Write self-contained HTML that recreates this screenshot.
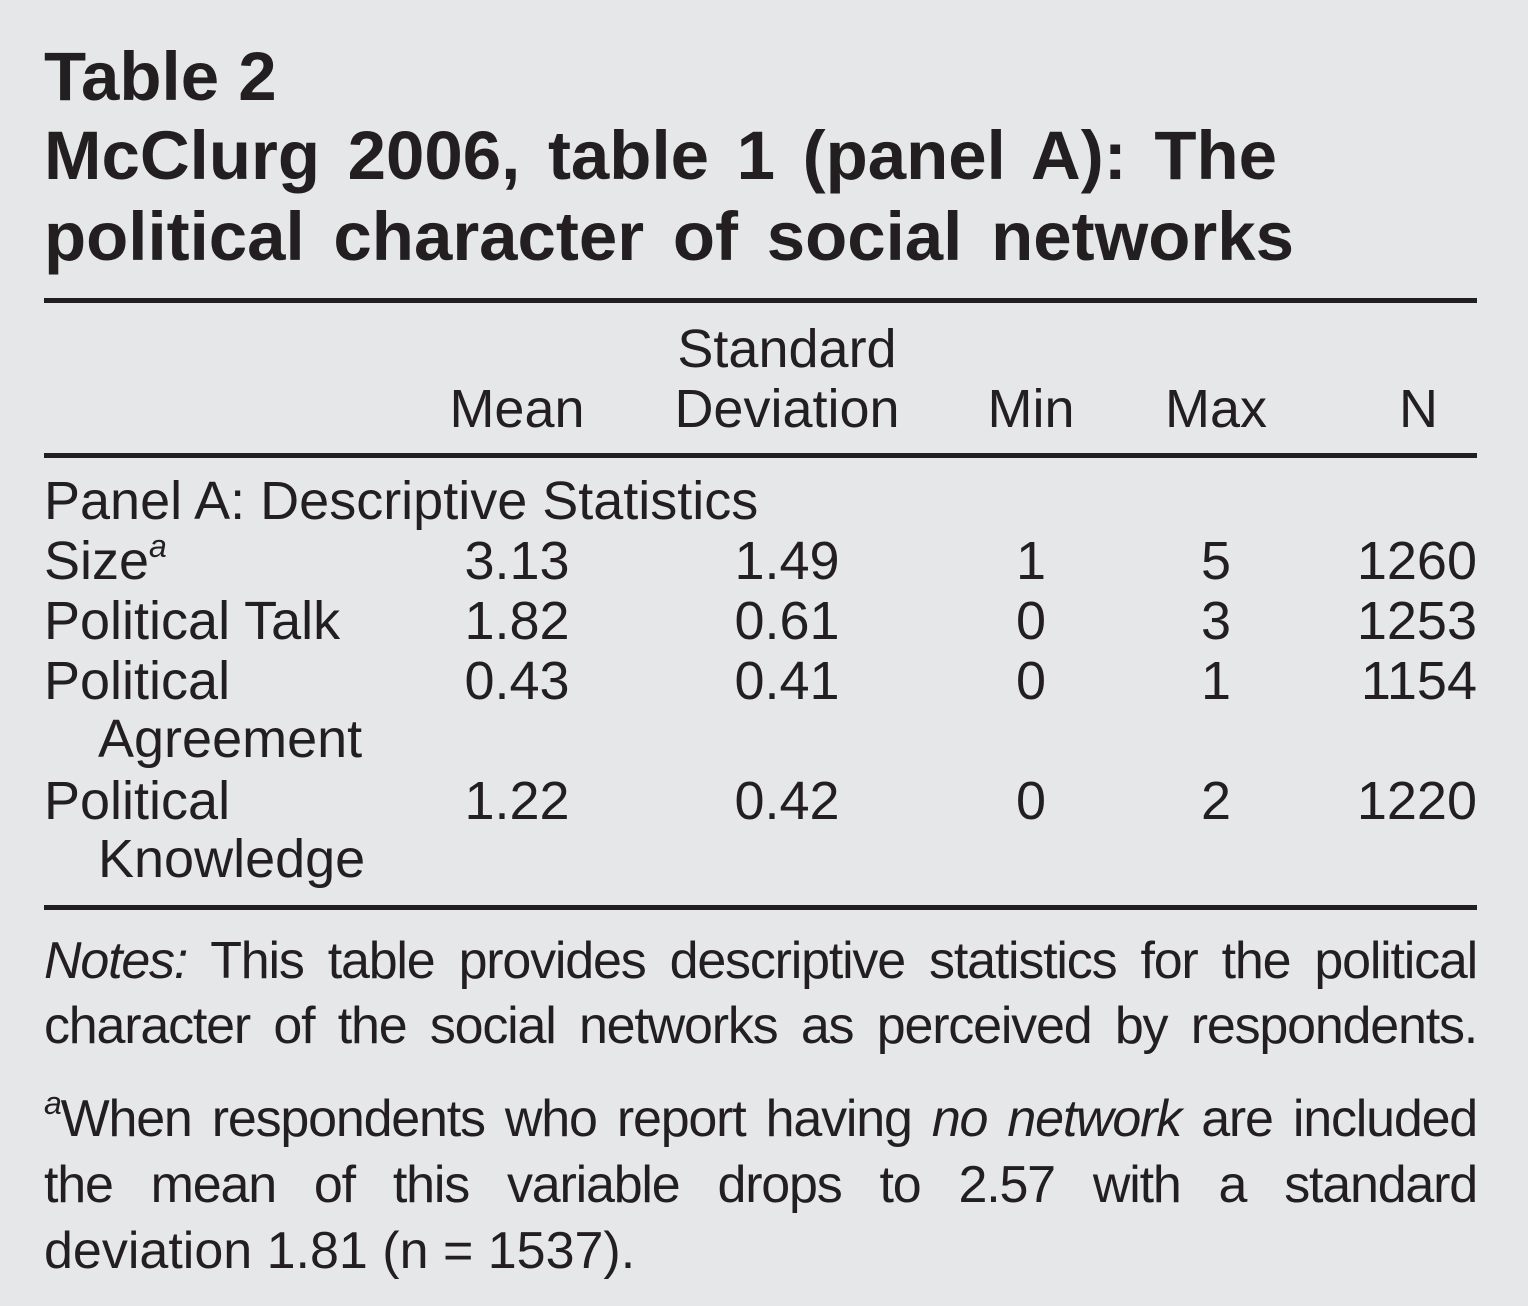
<!DOCTYPE html>
<html><head><meta charset="utf-8"><style>
html,body{margin:0;padding:0;}
body{width:1528px;height:1306px;background:#e6e7e9;position:relative;overflow:hidden;font-family:"Liberation Sans",Arial,sans-serif;color:#231f20;}
.t{position:absolute;white-space:nowrap;font-size:54px;line-height:54px;}
.b{font-weight:bold;font-size:69px;line-height:69px;}
.j{text-align:justify;text-align-last:justify;white-space:normal;width:1433px;left:44px;font-size:52px;line-height:52px;letter-spacing:-1.2px;word-spacing:-2px;}
.rule{position:absolute;left:44px;width:1433px;height:5px;background:#231f20;}
.c{transform:translateX(-50%);}
.r{transform:translateX(-100%);}
sup{font-size:32px;font-style:italic;vertical-align:0;position:relative;top:-22px;}
</style></head><body>
<div class="t b" style="left:44px;top:42px">Table 2</div>
<div class="t b" style="left:44px;top:121px;width:1233px;text-align:justify;text-align-last:justify;white-space:normal">McClurg 2006, table 1 (panel A): The</div>
<div class="t b" style="left:44px;top:202px;width:1250px;text-align:justify;text-align-last:justify;white-space:normal">political character of social networks</div>
<div class="rule" style="top:298px"></div>

<div class="t c" style="left:787px;top:322px">Standard</div>
<div class="t c" style="left:517px;top:382px">Mean</div>
<div class="t c" style="left:787px;top:382px">Deviation</div>
<div class="t c" style="left:1031px;top:382px">Min</div>
<div class="t c" style="left:1216px;top:382px">Max</div>
<div class="t r" style="left:1438px;top:382px">N</div>
<div class="rule" style="top:453px"></div>

<div class="t" style="left:44px;top:474px">Panel A: Descriptive Statistics</div>

<div class="t" style="left:44px;top:534px">Size<sup>a</sup></div>
<div class="t c" style="left:517px;top:534px">3.13</div>
<div class="t c" style="left:787px;top:534px">1.49</div>
<div class="t c" style="left:1031px;top:534px">1</div>
<div class="t c" style="left:1216px;top:534px">5</div>
<div class="t r" style="left:1477px;top:534px">1260</div>

<div class="t" style="left:44px;top:594px">Political Talk</div>
<div class="t c" style="left:517px;top:594px">1.82</div>
<div class="t c" style="left:787px;top:594px">0.61</div>
<div class="t c" style="left:1031px;top:594px">0</div>
<div class="t c" style="left:1216px;top:594px">3</div>
<div class="t r" style="left:1477px;top:594px">1253</div>

<div class="t" style="left:44px;top:654px">Political</div>
<div class="t" style="left:98px;top:712px">Agreement</div>
<div class="t c" style="left:517px;top:654px">0.43</div>
<div class="t c" style="left:787px;top:654px">0.41</div>
<div class="t c" style="left:1031px;top:654px">0</div>
<div class="t c" style="left:1216px;top:654px">1</div>
<div class="t r" style="left:1477px;top:654px">1154</div>

<div class="t" style="left:44px;top:774px">Political</div>
<div class="t" style="left:98px;top:832px">Knowledge</div>
<div class="t c" style="left:517px;top:774px">1.22</div>
<div class="t c" style="left:787px;top:774px">0.42</div>
<div class="t c" style="left:1031px;top:774px">0</div>
<div class="t c" style="left:1216px;top:774px">2</div>
<div class="t r" style="left:1477px;top:774px">1220</div>

<div class="rule" style="top:905px"></div>

<div class="t j" style="top:935px"><i>Notes:</i> This table provides descriptive statistics for the political</div>
<div class="t j" style="top:1000px">character of the social networks as perceived by respondents.</div>
<div class="t j" style="top:1093px"><sup>a</sup>When respondents who report having <i>no network</i> are included</div>
<div class="t j" style="top:1159px">the mean of this variable drops to 2.57 with a standard</div>
<div class="t" style="left:44px;top:1225px;font-size:52px;line-height:52px">deviation 1.81 (n = 1537).</div>
</body></html>
